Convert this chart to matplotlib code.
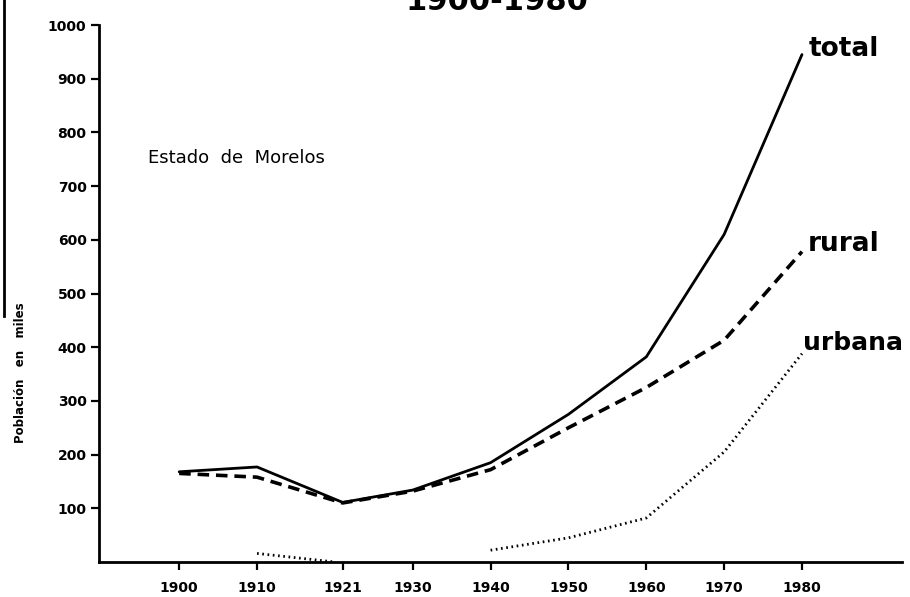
import matplotlib.pyplot as plt
from matplotlib.lines import Line2D

# censos, poblacion del estado de Morelos (miles)
years = [1900, 1910, 1921, 1930, 1940, 1950, 1960, 1970, 1980]
total = [168, 177, 111, 134, 185, 275, 382, 610, 945]
rural = [165, 158, 110, 132, 172, 250, 325, 413, 578]

# urbana: solo dos tramos dibujados
urb_years_a = [1910, 1920]
urb_a = [16, 0]
urb_years_b = [1940, 1950, 1960, 1970, 1980]
urb_b = [22, 45, 82, 205, 388]

yticks = [100, 200, 300, 400, 500, 600, 700, 800, 900, 1000]

fig = plt.figure(figsize=(9.1, 5.97), dpi=100)
ax = fig.add_axes([0.1088, 0.0586, 0.882, 0.8995])

ax.plot(years, total, color='black', lw=2.0, solid_capstyle='round')
ax.plot(years, rural, color='black', lw=2.6, linestyle=(0, (3.2, 1.9)))
ax.plot(urb_years_a, urb_a, color='black', lw=2.0, linestyle=(0, (0.6, 1.3)))
ax.plot(urb_years_b, urb_b, color='black', lw=2.0, linestyle=(0, (0.6, 1.3)))

ax.set_xlim(1889.7, 1992.8)
ax.set_ylim(0, 1000)
ax.set_xticks(years)
ax.set_xticklabels([str(y) for y in years], fontsize=10, fontweight='bold')
ax.set_yticks(yticks)
ax.set_yticklabels([str(v) for v in yticks], fontsize=10, fontweight='bold')
ax.tick_params(axis='both', direction='out', length=6, width=1.6, color='black')
ax.tick_params(axis='x', pad=8)
ax.tick_params(axis='y', pad=3)

for s in ['top', 'right']:
    ax.spines[s].set_visible(False)
for s in ['left', 'bottom']:
    ax.spines[s].set_linewidth(2.0)

# etiquetas de las series
ax.text(years[-1] + 0.8, total[-1] + 10, 'total', fontsize=19,
        fontweight='bold', ha='left', va='center')
ax.text(years[-1] + 0.8, rural[-1] + 15, 'rural', fontsize=19,
        fontweight='bold', ha='left', va='center')
ax.text(years[-1] + 0.1, urb_b[-1] + 20, 'urbana', fontsize=18,
        fontweight='bold', ha='left', va='center')

ax.text(1896, 752, 'Estado  de  Morelos', fontsize=13, ha='left', va='center')

fig.text(0.022, 0.375, 'Población   en   miles', rotation=90, fontsize=8.5,
         fontweight='bold', ha='center', va='center')

# titulo cortado en el borde superior
fig.text(0.546, 0.984, '1900-1980', fontsize=22, fontweight='bold',
         ha='center', va='baseline')

# borde de la hoja escaneada
fig.add_artist(Line2D([0.004, 0.004], [1.0, 0.47], color='black', lw=2.0,
                      transform=fig.transFigure))

fig.savefig('out.png', dpi=100)
